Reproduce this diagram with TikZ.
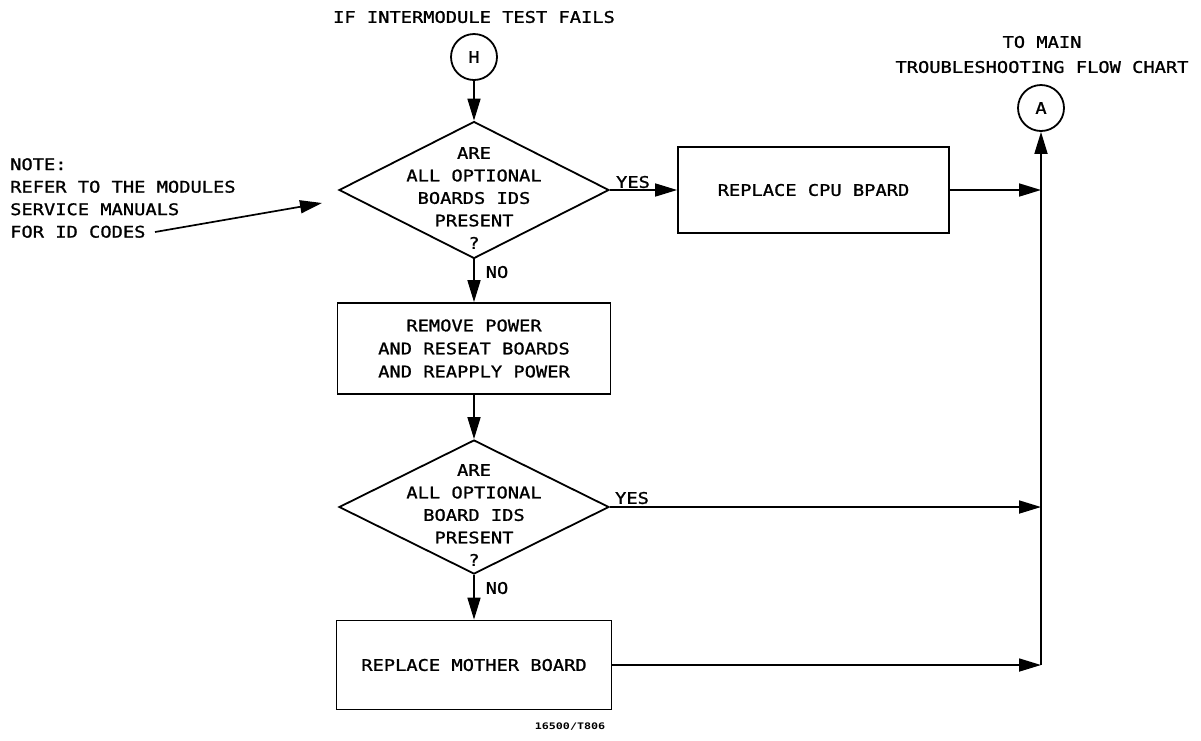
\documentclass[tikz,border=0pt]{standalone}
\usepackage{fontspec}
\setmainfont{DejaVu Sans Mono}[FakeStretch=1.17, FakeBold=1.2]
\newfontfamily\labfont{DejaVu Sans Mono}[FakeStretch=1.3]
\usetikzlibrary{shapes.geometric,arrows.meta}
\begin{document}
\begin{tikzpicture}[x=1pt,y=-1pt,
  txt/.style={font=\fontsize{16}{22.5}\selectfont, align=center, inner sep=0pt},
  box/.style={draw, line width=1.8pt, rectangle, font=\fontsize{16}{23}\selectfont, align=center},
  dia/.style={draw, line width=1.8pt, diamond, inner sep=0pt},
  conn/.style={circle, draw, line width=1.8pt, minimum size=46pt, inner sep=0pt, font=\fontsize{16}{18}\selectfont},
  flow/.style={line width=1.7pt, -{Triangle[length=22pt,width=13pt]}},
  plainline/.style={line width=1.7pt}]
\useasboundingbox (0,0) rectangle (1201,740);

% titles
\node[txt] (title) at (474,17) {IF INTERMODULE TEST FAILS};
\node[txt, font=\fontsize{16}{25}\selectfont] (tomain) at (1042,54.5) {TO MAIN\\TROUBLESHOOTING FLOW CHART};

% connectors (circles)
\node[conn] (H) at (474,57) {H};
\node[conn] (A) at (1041,108) {A};

% decision 1
\node[dia, minimum width=270pt, minimum height=137pt] (d1) at (474,190) {};
\node[txt] (d1t) at (474,198) {ARE\\ALL OPTIONAL\\BOARDS IDS\\PRESENT\\?};

% CPU box
\node[box, minimum width=271pt, minimum height=86pt] (cpu) at (813.5,190) {REPLACE CPU BPARD};

% box 2
\node[box, minimum width=273pt, minimum height=91pt] (b2) at (474,348.5) {REMOVE POWER\\AND RESEAT BOARDS\\AND REAPPLY POWER};

% decision 2
\node[dia, minimum width=270pt, minimum height=134pt] (d2) at (474,507) {};
\node[txt] (d2t) at (474,515) {ARE\\ALL OPTIONAL\\BOARD IDS\\PRESENT\\?};

% box 3
\node[box, minimum width=275pt, minimum height=89pt] (b3) at (474,665) {REPLACE MOTHER BOARD};

% labels
\node[txt] (yes1) at (633,182) {YES};
\node[txt] (yes2) at (632,498) {YES};
\node[txt] (no1) at (497,272) {NO};
\node[txt] (no2) at (497,588) {NO};
\node[inner sep=0pt, font=\labfont\bfseries\fontsize{9}{10}\selectfont] (fig) at (570,727) {16500/T806};

% note
\node[txt, align=left, anchor=west] (note) at (10,198) {NOTE:\\REFER TO THE MODULES\\SERVICE MANUALS\\FOR ID CODES};
\coordinate (ns) at (155,232);
\coordinate (nt) at (322,203);
\draw[flow] (ns) -- (nt);

% junctions
\coordinate (j1) at (1041,190);
\coordinate (j2) at (1041,507);
\coordinate (j3) at (1041,665);

% flow
\draw[flow] (H.south) -- (d1.north);
\draw[flow] (d1.east) -- (cpu.west);
\draw[flow] (d1.south) -- (b2.north);
\draw[flow] (b2.south) -- (d2.north);
\draw[flow] (d2.south) -- (b3.north);
\draw[flow] (cpu.east) -- (j1);
\draw[flow] (d2.east) -- (j2);
\draw[flow] (b3.east) -- (j3);
\draw[flow] (j3) -- (A.south);
\end{tikzpicture}
\end{document}
